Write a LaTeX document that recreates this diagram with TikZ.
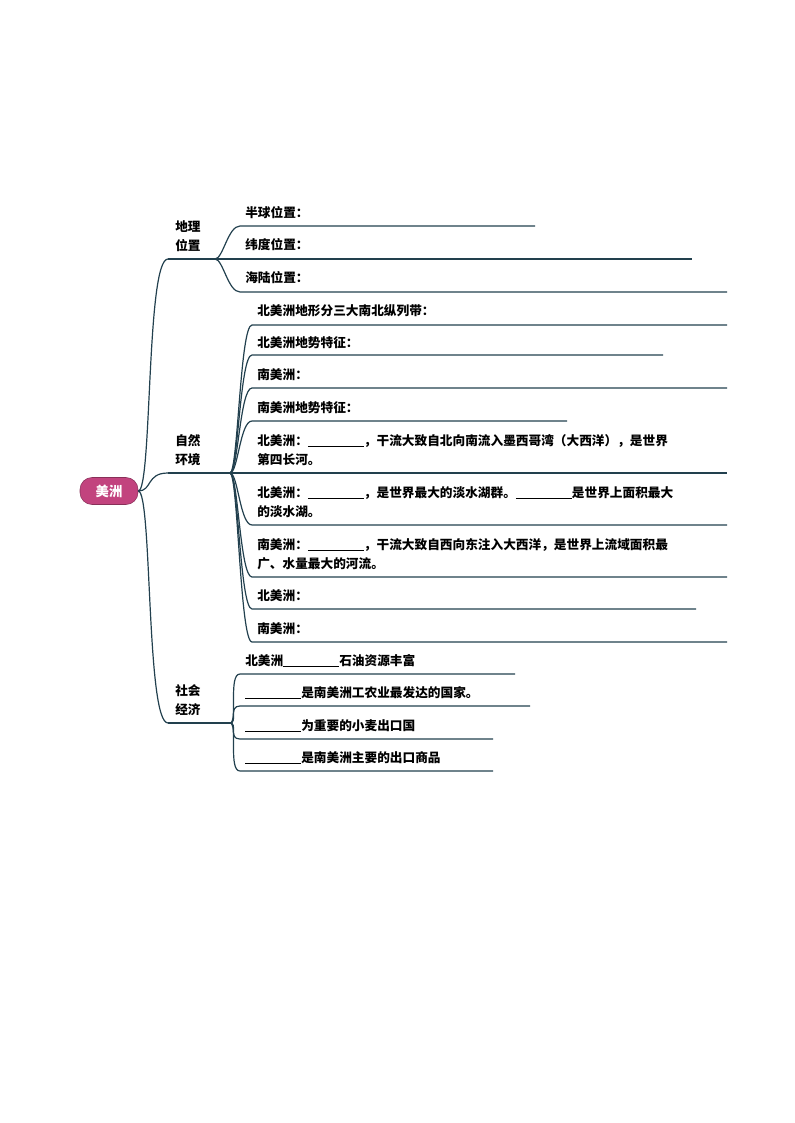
\documentclass[tikz,border=0pt]{standalone}
\usepackage{fontspec}
\setmainfont{Noto Sans CJK SC}
\begin{document}
\begin{tikzpicture}[x=0.75pt,y=-0.75pt,
  br/.style={draw=lnc,line width=0.9pt},
  txt/.style={anchor=west,inner sep=0pt,font=\fontsize{9.5}{14}\selectfont\bfseries,align=left,text=black},
  root/.style={fill=rootc,draw=rootc!70!black,rounded corners=9pt,minimum width=58*0.75pt,minimum height=27*0.75pt,text=white,font=\fontsize{10}{12}\selectfont\bfseries,inner sep=0pt}]
\definecolor{lnc}{HTML}{22404E}
\definecolor{rootc}{HTML}{C2437E}
\newcommand{\blank}{\rule[-1pt]{42pt}{0.6pt}}
\useasboundingbox (0,0) rectangle (794,1123);
\node[root] (root) at (109,491) {美洲};
% level 1
\node[txt] (g) at (175,236) {地理\\位置};
\node[txt] (z) at (175,450) {自然\\环境};
\node[txt] (s) at (175,700) {社会\\经济};
\coordinate (gs) at (168,259); \coordinate (ge) at (215,259);
\coordinate (zs) at (168,473); \coordinate (ze) at (230,473);
\coordinate (ss) at (168,723); \coordinate (se) at (230,723);
\foreach \a/\b in {gs/ge,zs/ze,ss/se} \draw[br] (\a)--(\b);
\foreach \a in {gs,zs,ss} \draw[br] (root.east) .. controls +(14,0) and +(-22,0) .. (\a);
% leaves
\newcommand{\leaf}[7]{% name, parent, xs, y-line, xe, text, ytext
  \node[txt] (#1) at (#3+5,#7) {#6};
  \coordinate (#1s) at (#3,#4); \coordinate (#1e) at (#5,#4);
  \draw[br] (#2) .. controls +(8,0) and +(-12,0) .. (#1s) -- (#1e);}
\leaf{g1}{ge}{240}{226}{535}{半球位置：}{213}
\leaf{g2}{ge}{240}{259}{692}{纬度位置：}{245}
\leaf{g3}{ge}{240}{292}{727}{海陆位置：}{278}
\leaf{z1}{ze}{252}{325}{727}{北美洲地形分三大南北纵列带：}{311}
\leaf{z2}{ze}{252}{355}{663}{北美洲地势特征：}{343}
\leaf{z3}{ze}{252}{388}{727}{南美洲：}{375}
\leaf{z4}{ze}{252}{421}{567}{南美洲地势特征：}{408}
\leaf{z5}{ze}{252}{473}{727}{北美洲：\blank，干流大致自北向南流入墨西哥湾（大西洋），是世界\\第四长河。}{450}
\leaf{z6}{ze}{252}{525}{727}{北美洲：\blank，是世界最大的淡水湖群。\blank 是世界上面积最大\\的淡水湖。}{502}
\leaf{z7}{ze}{252}{577}{727}{南美洲：\blank，干流大致自西向东注入大西洋，是世界上流域面积最\\广、水量最大的河流。}{554}
\leaf{z8}{ze}{252}{609}{696}{北美洲：}{596}
\leaf{z9}{ze}{252}{642}{727}{南美洲：}{629}
\leaf{s1}{se}{240}{674}{515}{北美洲\blank 石油资源丰富}{661}
\leaf{s2}{se}{240}{706}{530}{\blank 是南美洲工农业最发达的国家。}{693}
\leaf{s3}{se}{240}{739}{493}{\blank 为重要的小麦出口国}{726}
\leaf{s4}{se}{240}{771}{493}{\blank 是南美洲主要的出口商品}{758}
\end{tikzpicture}
\end{document}
